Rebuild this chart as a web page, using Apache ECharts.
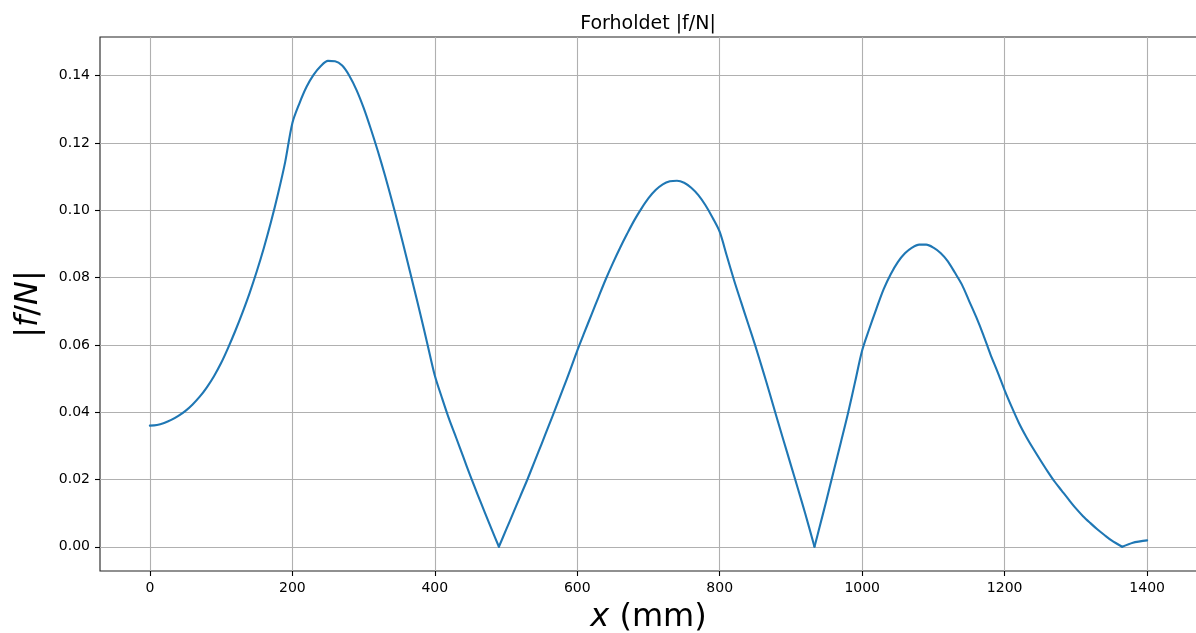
<!DOCTYPE html>
<html>
<head>
<meta charset="utf-8">
<script src="https://cdn.jsdelivr.net/npm/echarts@6/dist/echarts.min.js"></script>
<style>
  html, body { margin: 0; padding: 0; background: #fff; }
  #chart { width: 1196px; height: 633px; }
</style>
</head>
<body>
<div id="chart"></div>
<script>
// ---- data ----
const xValues = [
  0, 10, 20, 30, 40, 50, 60, 70, 80, 90, 100, 110, 120, 130, 140, 150, 160, 170, 180, 190, 200,
  210, 220, 230, 240, 250, 260, 270, 280, 290, 300, 310, 320, 330, 340, 350, 360, 370, 380, 390, 400,
  410, 420, 430, 440, 450, 460, 470, 480, 490,
  500, 510, 520, 530, 540, 550, 560, 570, 580, 590, 600,
  610, 620, 630, 640, 650, 660, 670, 680, 690, 700, 710, 720, 730, 740, 750, 760, 770, 780, 790, 800,
  810, 820, 830, 840, 850, 860, 870, 880, 890, 900, 910, 920, 933,
  940, 950, 960, 970, 980, 990, 1000,
  1010, 1020, 1030, 1040, 1050, 1060, 1070, 1080, 1090, 1100, 1110, 1120, 1130, 1140, 1150, 1160, 1170, 1180, 1190, 1200,
  1210, 1220, 1230, 1240, 1250, 1260, 1270, 1280, 1290, 1300, 1310, 1320, 1330, 1340, 1350, 1365, 1380, 1390, 1400
];
const ratioValues = [
  0.0360, 0.0362, 0.0368, 0.0377, 0.0389, 0.0404, 0.0423, 0.0446, 0.0474, 0.0507, 0.0546, 0.0592, 0.0642, 0.0696, 0.0754, 0.0818, 0.0888, 0.0965, 0.1050, 0.1144, 0.1259,
  0.1318, 0.1367, 0.1403, 0.1429, 0.1444, 0.1443, 0.1430, 0.1400, 0.1358, 0.1305, 0.1243, 0.1176, 0.1104, 0.1027, 0.0946, 0.0862, 0.0776, 0.0689, 0.0599, 0.0509,
  0.0443, 0.0380, 0.0324, 0.0267, 0.0210, 0.0156, 0.0103, 0.0051, 0.0000,
  0.0050, 0.0100, 0.0150, 0.0200, 0.0253, 0.0306, 0.0360, 0.0414, 0.0469, 0.0525, 0.0583,
  0.0637, 0.0690, 0.0743, 0.0795, 0.0843, 0.0888, 0.0930, 0.0970, 0.1005, 0.1036, 0.1060, 0.1077, 0.1086, 0.1088, 0.1082, 0.1067, 0.1045, 0.1015, 0.0978, 0.0936,
  0.0864, 0.0793, 0.0727, 0.0662, 0.0597, 0.0528, 0.0457, 0.0384, 0.0313, 0.0242, 0.0171, 0.0099, 0.0000,
  0.0057, 0.0140, 0.0225, 0.0310, 0.0396, 0.0490, 0.0584,
  0.0648, 0.0708, 0.0765, 0.0810, 0.0846, 0.0872, 0.0889, 0.0898, 0.0898, 0.0889, 0.0873, 0.0849, 0.0815, 0.0779, 0.0731, 0.0683, 0.0630, 0.0572, 0.0520, 0.0465,
  0.0415, 0.0368, 0.0328, 0.0292, 0.0258, 0.0225, 0.0194, 0.0167, 0.0140, 0.0114, 0.0091, 0.0071, 0.0052, 0.0035, 0.0019, 0.0000, 0.0012, 0.0016, 0.0019
];
// x positions where |f/N| touches zero (sharp corners of the curve)
const zeroCrossings = [490, 933, 1365];
const xTicks = [0, 200, 400, 600, 800, 1000, 1200, 1400];
const yTicks = [0.00, 0.02, 0.04, 0.06, 0.08, 0.10, 0.12, 0.14];
const titleText = 'Forholdet |f/N|';

// ---- chart ----
const FONT = '"DejaVu Sans", sans-serif';
const points = xValues.map((x, i) => [x, ratioValues[i]]);
// split the curve at the sharp zero corners so smoothing keeps them sharp
const pieces = [];
let start = 0;
zeroCrossings.forEach(zx => {
  const idx = xValues.indexOf(zx);
  pieces.push(points.slice(start, idx + 1));
  start = idx;
});
pieces.push(points.slice(start));

const chart = echarts.init(document.getElementById('chart'), null, { renderer: 'canvas' });

chart.setOption({
  animation: false,
  backgroundColor: '#fff',
  title: {
    text: titleText,
    left: 643,
    textAlign: 'center',
    top: 10,
    textStyle: { fontFamily: FONT, fontSize: 19, fontWeight: 'normal', color: '#000' }
  },
  grid: {
    left: 100, top: 37, width: 1097, height: 534,
    outerBoundsMode: 'none',
    containLabel: false,
    show: true, borderColor: '#222', borderWidth: 1.1, backgroundColor: 'transparent'
  },
  xAxis: {
    type: 'value', min: -70, max: 1470,
    name: '{i|x} (mm)',
    nameLocation: 'middle', nameGap: 31,
    nameTextStyle: {
      fontFamily: FONT, fontSize: 32, color: '#000',
      rich: { i: { fontFamily: FONT, fontSize: 32, fontStyle: 'italic', color: '#000' } }
    },
    axisLine: { show: false, onZero: false },
    axisTick: { show: true, length: 5, lineStyle: { color: '#000', width: 1.1 }, customValues: xTicks },
    axisLabel: { customValues: xTicks, margin: 10, fontFamily: FONT, fontSize: 14, color: '#000', formatter: v => String(v) },
    splitLine: { show: true, lineStyle: { color: '#b0b0b0', width: 1.1 } }
  },
  yAxis: {
    type: 'value', min: -0.0072, max: 0.1515,
    name: '|{i|f}/{i|N}|',
    nameLocation: 'middle', nameGap: 55, nameRotate: 90,
    nameTextStyle: {
      fontFamily: FONT, fontSize: 32, color: '#000',
      rich: { i: { fontFamily: FONT, fontSize: 32, fontStyle: 'italic', color: '#000' } }
    },
    axisLine: { show: false, onZero: false },
    axisTick: { show: true, length: 5, lineStyle: { color: '#000', width: 1.1 }, customValues: yTicks },
    axisLabel: { customValues: yTicks, margin: 10, fontFamily: FONT, fontSize: 14, color: '#000', formatter: v => v.toFixed(2) },
    splitLine: { show: true, lineStyle: { color: '#b0b0b0', width: 1.1 } }
  },
  series: pieces.map(data => ({
    type: 'line',
    data: data,
    showSymbol: false,
    smooth: 0.3,
    lineStyle: { color: '#1f77b4', width: 2.1, join: 'round', cap: 'round' },
    z: 3
  }))
});
</script>
</body>
</html>
